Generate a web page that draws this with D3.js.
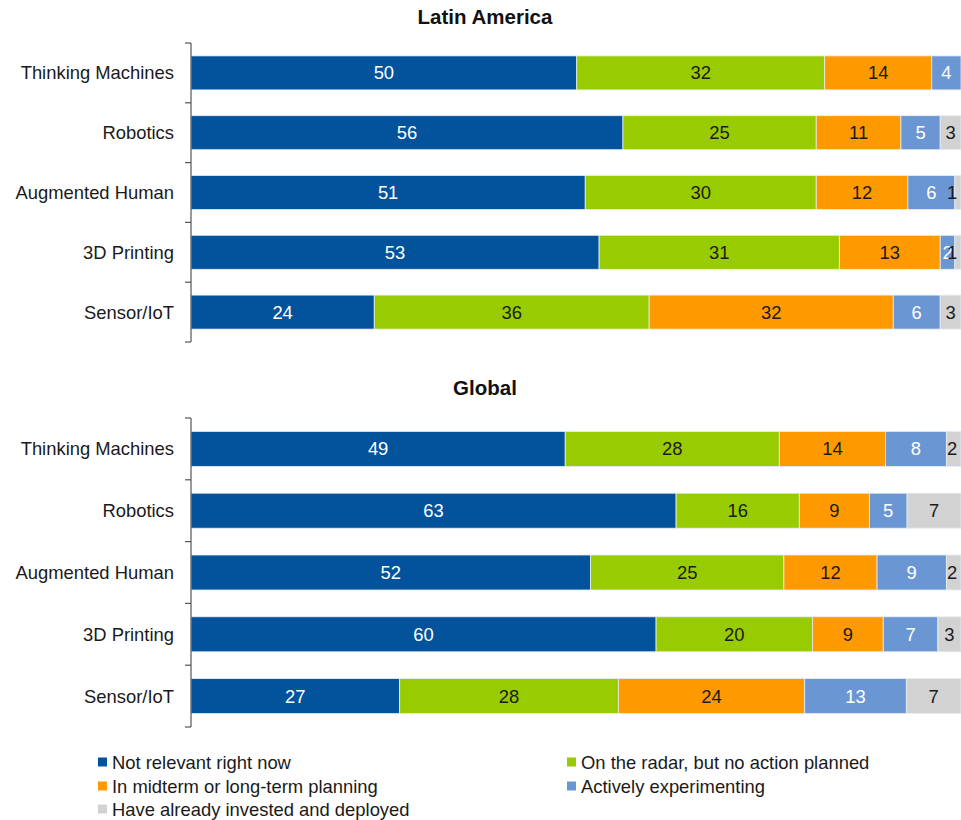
<!DOCTYPE html>
<html>
<head>
<meta charset="utf-8">
<script src="https://cdn.jsdelivr.net/npm/d3@7"></script>
<style>
  html, body { margin: 0; padding: 0; background: #fff; }
  svg { display: block; font-family: "Liberation Sans", Arial, sans-serif; }
</style>
</head>
<body>
<svg id="chart" width="961" height="820"></svg>
<script>
// ---- DATA ----
const categories = ["Thinking Machines", "Robotics", "Augmented Human", "3D Printing", "Sensor/IoT"];
const seriesNames = [
  "Not relevant right now",
  "On the radar, but no action planned",
  "In midterm or long-term planning",
  "Actively experimenting",
  "Have already invested and deployed"
];
const panelTitles = ["Latin America", "Global"];
// values (%) per category, in series order (labels are rounded)
const latinAmerica = [
  [50.1, 32.2, 13.9, 3.8, 0],
  [56.1, 25.1, 11.0, 5.1, 2.7],
  [51.2, 30.0, 11.9, 6.1, 0.8],
  [53.0, 31.2, 13.1, 1.9, 0.8],
  [23.8, 35.7, 31.7, 6.1, 2.7]
];
const globalData = [
  [48.6, 27.8, 13.8, 7.9, 1.9],
  [63.0, 16.0, 9.1, 4.9, 7.0],
  [51.9, 25.1, 12.1, 9.0, 1.9],
  [60.4, 20.3, 9.2, 7.1, 3.0],
  [27.1, 28.4, 24.2, 13.2, 7.1]
];
const colors = ["#02529c", "#99cc00", "#ff9900", "#6b96d4", "#d2d2d2"];
const labelColors = ["#ffffff", "#1a1a1a", "#1a1a1a", "#ffffff", "#1a1a1a"];

// ---- LAYOUT ----
const svg = d3.select("#chart");
const x = d3.scaleLinear().domain([0, 100]).range([191, 961]);

const panels = [
  { title: panelTitles[0], data: latinAmerica, titleY: 24, top: 43, bottom: 342, barH: 34 },
  { title: panelTitles[1], data: globalData, titleY: 395, top: 418, bottom: 727, barH: 35 }
];

panels.forEach(p => {
  const g = svg.append("g");
  const y = d3.scaleBand().domain(categories).range([p.top, p.bottom]);
  const off = (y.bandwidth() - p.barH) / 2;

  g.append("text")
    .attr("x", 485).attr("y", p.titleY)
    .attr("text-anchor", "middle")
    .attr("font-size", "20.5px").attr("font-weight", "bold")
    .attr("fill", "#111")
    .text(p.title);

  const stacked = p.data.map(row => {
    let acc = 0;
    return row.map(v => { const s = acc; acc += v; return [s, acc, v]; });
  });

  categories.forEach((cat, ci) => {
    const row = g.append("g");
    stacked[ci].forEach((seg, si) => {
      if (seg[2] <= 0) return;
      row.append("rect")
        .attr("x", x(seg[0]))
        .attr("y", y(cat) + off)
        .attr("width", x(seg[1]) - x(seg[0]))
        .attr("height", p.barH)
        .attr("fill", colors[si])
        .attr("stroke", "#e6edf5")
        .attr("stroke-width", 0.8);
    });
    stacked[ci].forEach((seg, si) => {
      if (seg[2] <= 0) return;
      const cx = Math.min((x(seg[0]) + x(seg[1])) / 2, 952);
      row.append("text")
        .attr("x", cx)
        .attr("y", y(cat) + y.bandwidth() / 2 + 6.5)
        .attr("text-anchor", "middle")
        .attr("font-size", "18.4px")
        .attr("fill", labelColors[si])
        .text(Math.round(seg[2]));
    });
  });

  // axis
  const axis = g.append("g").attr("stroke", "#555").attr("stroke-width", 1.2);
  axis.append("line")
    .attr("x1", 191).attr("x2", 191)
    .attr("y1", p.top).attr("y2", p.bottom);
  const tickYs = categories.map(c => y(c)).concat([p.bottom]);
  tickYs.forEach(t => {
    axis.append("line").attr("x1", 185).attr("x2", 191).attr("y1", t).attr("y2", t);
  });

  categories.forEach(cat => {
    g.append("text")
      .attr("x", 174)
      .attr("y", y(cat) + y.bandwidth() / 2 + 6.5)
      .attr("text-anchor", "end")
      .attr("font-size", "18.4px")
      .attr("fill", "#1a1a1a")
      .text(cat);
  });
});

// ---- LEGEND ----
const legendPos = [
  { x: 98, y: 762 },
  { x: 567, y: 762 },
  { x: 98, y: 786 },
  { x: 567, y: 786 },
  { x: 98, y: 809 }
];
const legend = svg.append("g");
seriesNames.forEach((name, i) => {
  const pos = legendPos[i];
  legend.append("rect")
    .attr("x", pos.x).attr("y", pos.y - 4.5)
    .attr("width", 9).attr("height", 9)
    .attr("fill", colors[i]);
  legend.append("text")
    .attr("x", pos.x + 14).attr("y", pos.y + 6.5)
    .attr("font-size", "18.4px")
    .attr("fill", "#1a1a1a")
    .text(name);
});
</script>
</body>
</html>
